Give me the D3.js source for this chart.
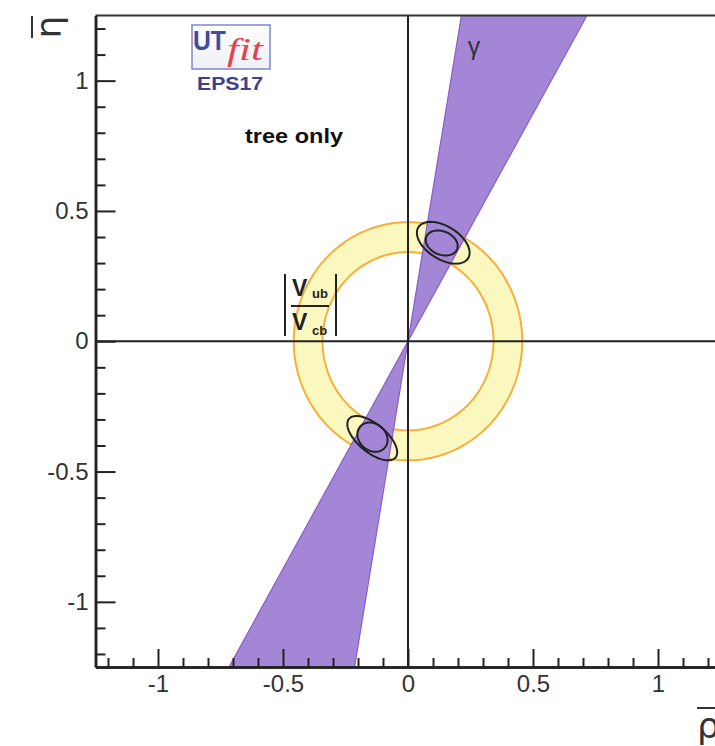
<!DOCTYPE html>
<html>
<head>
<meta charset="utf-8">
<script src="https://cdn.jsdelivr.net/npm/d3@7"></script>
<style>
  body { margin: 0; background: #fff; }
  text { font-family: "Liberation Sans", Helvetica, Arial, sans-serif; }
</style>
</head>
<body>
<svg id="chart" width="715" height="746"></svg>
<script>
// ranges of the plot
const xDomain = [-1.25, 1.25];
const yDomain = [-1.25, 1.25];
const majorTicks = [-1, -0.5, 0, 0.5, 1];
const majorLabels = ["-1", "-0.5", "0", "0.5", "1"];
const minorTicks = [-1.2, -1.1, -0.9, -0.8, -0.7, -0.6, -0.4, -0.3, -0.2, -0.1,
  0.1, 0.2, 0.3, 0.4, 0.6, 0.7, 0.8, 0.9, 1.1, 1.2];

// gamma band (degrees) and |Vub/Vcb| ring (radius)
const gammaDeg = [60.2, 80.3];
const vubRadius = [0.342, 0.457];

// fit contours (ellipse: centre, semi axes, rotation in degrees)
const contourCx = [0.141, 0.135, -0.143, -0.142];
const contourCy = [0.378, 0.377, -0.372, -0.368];
const contourA = [0.116, 0.066, 0.119, 0.064];
const contourB = [0.064, 0.045, 0.055, 0.052];
const contourRot = [-30, -20, -38, -35];

const svg = d3.select("#chart");
const pLeft = 95.5, pRight = 720.5, pTop = 15.5, pBottom = 667;

const x = d3.scaleLinear().domain(xDomain).range([pLeft, pRight]);
const y = d3.scaleLinear().domain(yDomain).range([pBottom, pTop]);

svg.append("clipPath").attr("id", "plotClip")
  .append("rect")
  .attr("x", pLeft).attr("y", pTop)
  .attr("width", pRight - pLeft).attr("height", pBottom - pTop);

const plot = svg.append("g").attr("clip-path", "url(#plotClip)");

// yellow ring
const circlePts = r => d3.range(0, 360, 2).map(a => [r * Math.cos(a * Math.PI / 180), r * Math.sin(a * Math.PI / 180)]);
const closedLine = d3.line().x(d => x(d[0])).y(d => y(d[1])).curve(d3.curveLinearClosed);

plot.append("path")
  .attr("d", closedLine(circlePts(vubRadius[1])) + closedLine(circlePts(vubRadius[0])))
  .attr("fill", "#faf8bf")
  .attr("fill-rule", "evenodd")
  .attr("stroke", "none");
vubRadius.forEach(r => {
  plot.append("path")
    .attr("d", closedLine(circlePts(r)))
    .attr("fill", "none")
    .attr("stroke", "#f6b03a")
    .attr("stroke-width", 2);
});

// gamma band: double wedge through the origin
const R = 3;
const rad = d => d * Math.PI / 180;
[0, 180].forEach(off => {
  const pts = [[0, 0],
    [R * Math.cos(rad(gammaDeg[0] + off)), R * Math.sin(rad(gammaDeg[0] + off))],
    [R * Math.cos(rad(gammaDeg[1] + off)), R * Math.sin(rad(gammaDeg[1] + off))]];
  plot.append("path")
    .attr("d", closedLine(pts))
    .attr("fill", "#a386d6")
    .attr("stroke", "#8a5dc8")
    .attr("stroke-width", 1.2);
});

// contours
contourCx.forEach((cx, i) => {
  const th = rad(contourRot[i]);
  const pts = d3.range(0, 360, 4).map(a => {
    const u = contourA[i] * Math.cos(rad(a)), v = contourB[i] * Math.sin(rad(a));
    return [cx + u * Math.cos(th) - v * Math.sin(th), contourCy[i] + u * Math.sin(th) + v * Math.cos(th)];
  });
  plot.append("path")
    .attr("d", closedLine(pts))
    .attr("fill", "none")
    .attr("stroke", "#222")
    .attr("stroke-width", 2);
});

// zero lines
plot.append("line")
  .attr("x1", x(0)).attr("x2", x(0)).attr("y1", pTop).attr("y2", pBottom)
  .attr("stroke", "#222").attr("stroke-width", 2);
plot.append("line")
  .attr("x1", pLeft).attr("x2", pRight).attr("y1", y(0)).attr("y2", y(0))
  .attr("stroke", "#222").attr("stroke-width", 2);

// frame top
svg.append("line")
  .attr("x1", pLeft).attr("x2", pRight).attr("y1", pTop).attr("y2", pTop)
  .attr("stroke", "#333").attr("stroke-width", 2);

// axes
const styleAxis = g => {
  g.select(".domain").attr("stroke", "#222").attr("stroke-width", 2.5);
  g.selectAll(".tick line").attr("stroke", "#222").attr("stroke-width", 2);
  g.selectAll(".tick text").attr("fill", "#333")
    .style("font-family", "'Liberation Sans', Helvetica, Arial, sans-serif")
    .style("font-size", "24px");
};

svg.append("g")
  .attr("transform", `translate(0,${pBottom})`)
  .call(d3.axisBottom(x).tickValues(minorTicks).tickSize(-9).tickFormat("").tickSizeOuter(0))
  .call(styleAxis);
svg.append("g")
  .attr("transform", `translate(0,${pBottom})`)
  .call(d3.axisBottom(x).tickValues(majorTicks).tickSize(-18).tickPadding(8)
    .tickFormat((d, i) => majorLabels[i]).tickSizeOuter(0))
  .call(styleAxis);

svg.append("g")
  .attr("transform", `translate(${pLeft},0)`)
  .call(d3.axisLeft(y).tickValues(minorTicks).tickSize(-10).tickFormat("").tickSizeOuter(0))
  .call(styleAxis);
svg.append("g")
  .attr("transform", `translate(${pLeft},0)`)
  .call(d3.axisLeft(y).tickValues(majorTicks).tickSize(-20).tickPadding(7)
    .tickFormat((d, i) => majorLabels[i]).tickSizeOuter(0))
  .call(styleAxis);

// axis titles
const etaG = svg.append("g").attr("transform", "translate(61,27) rotate(-90)");
etaG.append("text").attr("text-anchor", "middle")
  .style("font-size", "36px").style("font-family", "'DejaVu Sans', sans-serif")
  .attr("fill", "#333").text("η");
etaG.append("line").attr("x1", -11).attr("x2", 11).attr("y1", -29).attr("y2", -29)
  .attr("stroke", "#333").attr("stroke-width", 2);

svg.append("text").attr("x", 697).attr("y", 738)
  .style("font-size", "36px").style("font-family", "'DejaVu Sans', sans-serif")
  .attr("fill", "#333").text("ρ");
svg.append("line").attr("x1", 697).attr("x2", 720).attr("y1", 708).attr("y2", 708)
  .attr("stroke", "#333").attr("stroke-width", 2);

// gamma label
svg.append("text").attr("x", 474).attr("y", 55).attr("text-anchor", "middle")
  .style("font-size", "25px").attr("fill", "#333").text("γ");

// |Vub / Vcb| label
const vl = svg.append("g").attr("fill", "#222");
[285, 336].forEach(xx => vl.append("line")
  .attr("x1", xx).attr("x2", xx).attr("y1", 274).attr("y2", 336)
  .attr("stroke", "#222").attr("stroke-width", 2));
vl.append("line").attr("x1", 291).attr("x2", 329).attr("y1", 306).attr("y2", 306)
  .attr("stroke", "#222").attr("stroke-width", 2);
vl.append("text").attr("x", 292).attr("y", 296).style("font-size", "23px").style("font-weight", "bold").text("V");
vl.append("text").attr("x", 312).attr("y", 298).style("font-size", "13px").style("font-weight", "bold").text("ub");
vl.append("text").attr("x", 292).attr("y", 330).style("font-size", "23px").style("font-weight", "bold").text("V");
vl.append("text").attr("x", 312).attr("y", 335).style("font-size", "13px").style("font-weight", "bold").text("cb");

// tree only
svg.append("text").attr("x", 245).attr("y", 143)
  .attr("textLength", 98).attr("lengthAdjust", "spacingAndGlyphs")
  .style("font-size", "20px").style("font-weight", "bold").attr("fill", "#111").text("tree only");

// UTfit logo
const grad = svg.append("defs").append("linearGradient").attr("id", "logoGrad")
  .attr("x1", 0).attr("x2", 0).attr("y1", 0).attr("y2", 1);
grad.append("stop").attr("offset", "0%").attr("stop-color", "#ffffff");
grad.append("stop").attr("offset", "100%").attr("stop-color", "#eef0f8");
svg.append("rect").attr("x", 192).attr("y", 25).attr("width", 78).attr("height", 44)
  .attr("fill", "url(#logoGrad)").attr("stroke", "#7f86c8").attr("stroke-width", 1.5);
svg.append("text").attr("x", 193).attr("y", 50)
  .attr("textLength", 33).attr("lengthAdjust", "spacingAndGlyphs")
  .style("font-size", "27px").style("font-weight", "bold").attr("fill", "#454b98").text("UT");
svg.append("text").attr("x", 227).attr("y", 60)
  .attr("textLength", 36).attr("lengthAdjust", "spacingAndGlyphs")
  .style("font-family", "'Liberation Serif', 'DejaVu Serif', serif")
  .style("font-size", "31px").style("font-style", "italic").attr("fill", "#e4424f").text("fit");
svg.append("text").attr("x", 197).attr("y", 90)
  .attr("textLength", 66).attr("lengthAdjust", "spacingAndGlyphs")
  .style("font-size", "19px").style("font-weight", "bold").attr("fill", "#3d418c").text("EPS17");
</script>
</body>
</html>
